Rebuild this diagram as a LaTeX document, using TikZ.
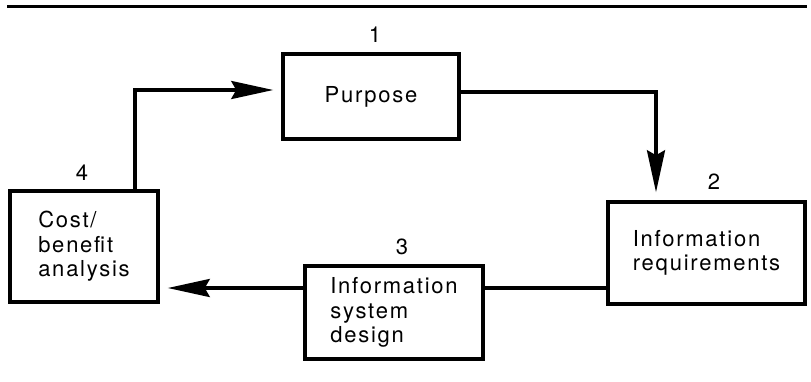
\documentclass[tikz,border=0pt]{standalone}
\usepackage{fontspec}
\setmainfont{TeX Gyre Heros}[LetterSpace=8]
\usetikzlibrary{arrows.meta}

\tikzset{
  stagebox/.style={draw, line width=3.5pt, rectangle, inner sep=0pt,
    align=left, font=\fontsize{22}{24.5}\selectfont},
  numlabel/.style={font=\fontsize{22}{24.5}\selectfont, inner sep=0pt},
  conn/.style={line width=3.5pt},
  flow/.style={conn, -{Stealth[length=42pt,width=18pt,inset=5pt]}, shorten >=8pt},
}

\begin{document}
\begin{tikzpicture}[x=1pt, y=-1pt]
  \useasboundingbox (0,0) rectangle (811,381);

  % heading rule
  \draw[line width=3pt] (7,6.5) -- (807,6.5);

  % the four stages of the cycle
  \node[stagebox, minimum width=176pt, minimum height=85pt]  (b1) at (371,96.5)  {Purpose};
  \node[stagebox, minimum width=197pt, minimum height=102pt] (b2) at (706.5,253) {Information\\requirements};
  \node[stagebox, minimum width=178pt, minimum height=93pt]  (b3) at (394,312.5) {Information\\system\\design};
  \node[stagebox, minimum width=148pt, minimum height=111pt] (b4) at (84,246.5)  {Cost/\\benefit\\analysis};

  % stage numbers
  \node[numlabel] (n1) at (375,35)  {1};
  \node[numlabel] (n2) at (714,182) {2};
  \node[numlabel] (n3) at (402,247) {3};
  \node[numlabel] (n4) at (82,173)  {4};

  % routing points of the connectors
  \coordinate (k1) at (135,90);
  \coordinate (k2) at (656,92);
  \coordinate (k3) at (0,288);

  % connectors
  \draw[flow] (b4.north -| k1) |- (b1.west |- k1);
  \draw[flow] (b1.east |- k2) -| (b2.north -| k2);
  \draw[conn] (b2.west |- k3) -- (b3.east |- k3);
  \draw[flow] (b3.west |- k3) -- (b4.east |- k3);
\end{tikzpicture}
\end{document}
